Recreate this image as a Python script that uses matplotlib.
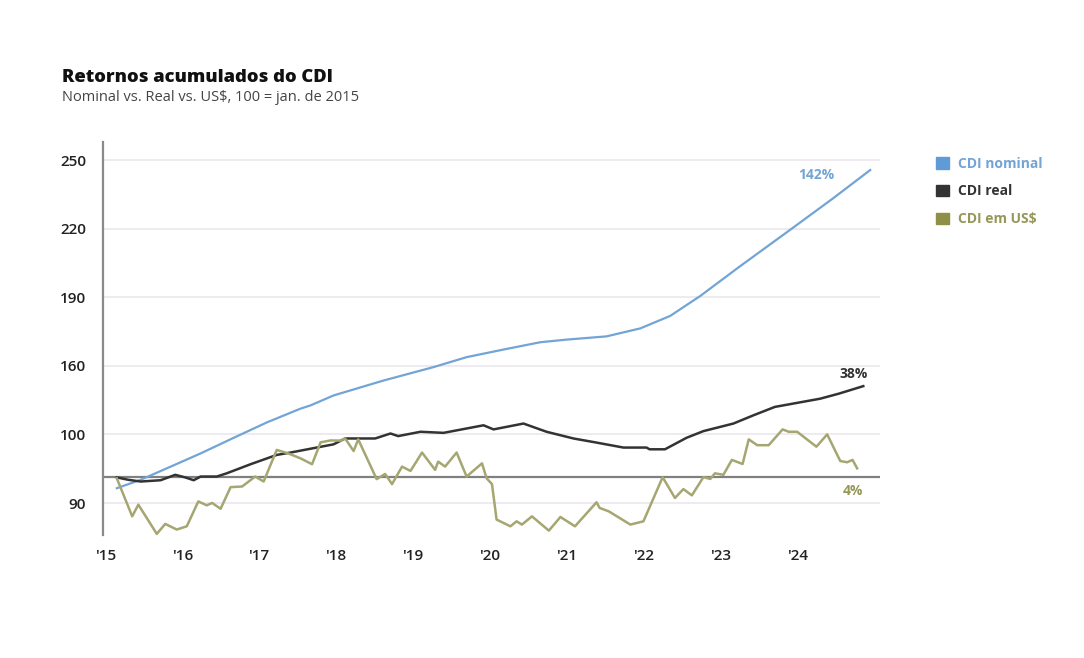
import matplotlib.pyplot as plt
from matplotlib.patches import Patch

plt.rcParams['font.family'] = ['Open Sans', 'DejaVu Sans']

# x in decimal years, y as index (100 = jan. de 2015)
nominal_x = [2015.15, 2015.46, 2015.80, 2016.24, 2016.67, 2017.10, 2017.54, 2017.67,
             2017.97, 2018.62, 2019.27, 2019.70, 2020.22, 2020.66, 2021.00, 2021.52,
             2021.96, 2022.35, 2022.74, 2023.26, 2023.91, 2024.47, 2024.95]
nominal_y = [94.9, 98.8, 104.1, 111.0, 118.2, 125.3, 131.7, 133.2,
             137.8, 144.7, 150.9, 155.5, 159.3, 162.4, 163.6, 165.1,
             168.8, 174.6, 183.8, 197.6, 214.4, 229.0, 242.0]

real_x = [2015.15, 2015.30, 2015.46, 2015.72, 2015.91, 2016.04, 2016.15, 2016.24,
          2016.45, 2016.58, 2016.89, 2017.23, 2017.41, 2017.97, 2018.12, 2018.51,
          2018.71, 2018.81, 2019.10, 2019.40, 2019.92, 2020.05, 2020.44, 2020.74,
          2021.09, 2021.39, 2021.74, 2022.04, 2022.08, 2022.28, 2022.56, 2022.78,
          2023.17, 2023.43, 2023.71, 2024.30, 2024.54, 2024.86]
real_y = [99.9, 98.8, 98.0, 98.6, 101.1, 99.9, 98.6, 100.3,
          100.3, 101.8, 106.0, 110.3, 111.4, 115.2, 117.9, 117.9,
          120.2, 119.0, 121.0, 120.5, 124.0, 122.1, 124.8, 121.0,
          117.9, 116.0, 113.7, 113.7, 112.9, 112.9, 118.2, 121.3,
          124.8, 128.6, 132.5, 136.3, 138.6, 142.1]

usd_x = [2015.15, 2015.35, 2015.43, 2015.67, 2015.78, 2015.93, 2016.06, 2016.21,
         2016.32, 2016.39, 2016.50, 2016.63, 2016.78, 2016.95, 2017.06, 2017.23,
         2017.38, 2017.54, 2017.69, 2017.80, 2017.93, 2018.06, 2018.12, 2018.23,
         2018.29, 2018.53, 2018.64, 2018.73, 2018.86, 2018.97, 2019.12, 2019.29,
         2019.33, 2019.42, 2019.57, 2019.70, 2019.90, 2019.96, 2020.03, 2020.09,
         2020.27, 2020.35, 2020.42, 2020.55, 2020.77, 2020.92, 2021.11, 2021.39,
         2021.43, 2021.55, 2021.83, 2022.00, 2022.25, 2022.41, 2022.52, 2022.63,
         2022.78, 2022.87, 2022.93, 2023.04, 2023.15, 2023.29, 2023.37, 2023.48,
         2023.63, 2023.81, 2023.89, 2024.00, 2024.25, 2024.39, 2024.56, 2024.65,
         2024.72, 2024.78]
usd_y = [99.5, 81.9, 87.3, 73.8, 78.4, 75.8, 77.3, 88.8,
         87.0, 88.1, 85.4, 95.4, 95.7, 100.3, 98.0, 112.6,
         111.0, 108.7, 106.0, 116.1, 117.0, 116.9, 117.9, 112.1,
         117.5, 99.1, 101.5, 96.8, 104.9, 102.9, 111.4, 103.4,
         107.2, 104.9, 111.4, 100.3, 106.4, 99.5, 96.8, 80.4,
         77.3, 79.6, 78.1, 81.9, 75.3, 81.6, 77.3, 88.4,
         85.8, 84.2, 78.1, 79.6, 100.0, 90.4, 94.5, 91.6,
         100.0, 99.2, 101.8, 101.1, 108.0, 106.1, 117.5, 114.8,
         114.8, 122.1, 121.0, 121.0, 114.1, 119.8, 107.5, 106.9,
         108.0, 104.1]

year_ticks = [2015, 2016, 2017, 2018, 2019, 2020, 2021, 2022, 2023, 2024]
year_labels = ["'15", "'16", "'17", "'18", "'19", "'20", "'21", "'22", "'23", "'24"]
# grid lines as drawn in the source, with the labels it prints on them
grid_pos = [88.0, 119.8, 151.5, 183.2, 214.9, 246.6]
grid_labels = ['90', '100', '160', '190', '220', '250']

blue = '#72a4d6'
dark = '#333333'
olive = '#a6a672'
olive_txt = '#979759'

fig = plt.figure(figsize=(10.84, 6.58), dpi=100)
ax = fig.add_axes([0.095, 0.187, 0.717, 0.597])

ax.plot(nominal_x, nominal_y, color=blue, lw=1.6)
ax.plot(real_x, real_y, color=dark, lw=1.8)
ax.plot(usd_x, usd_y, color=olive, lw=1.8)
ax.axhline(100, color='#808080', lw=1.6, zorder=1)

ax.set_xlim(2014.97, 2025.08)
ax.set_ylim(73.3, 254.9)
ax.set_xticks(year_ticks)
ax.set_xticklabels(year_labels)
ax.set_yticks(grid_pos)
ax.set_yticklabels(grid_labels)
ax.tick_params(length=0, labelsize=11, labelcolor='#222222')
ax.tick_params(axis='y', pad=12)
ax.tick_params(axis='x', pad=10)
for lab in ax.get_xticklabels() + ax.get_yticklabels():
    lab.set_fontweight('semibold')
ax.grid(axis='y', color='#ebe6ec', lw=1.2, zorder=0)
for side in ['top', 'right', 'bottom']:
    ax.spines[side].set_visible(False)
ax.spines['left'].set_color('#8a8a8a')
ax.spines['left'].set_linewidth(1.6)

ax.text(nominal_x[-1] - 0.70, 239.7, '142%', color=blue, fontsize=10,
        fontweight='bold', ha='center', va='center')
ax.text(real_x[-1] - 0.12, 147.6, '38%', color=dark, fontsize=10,
        fontweight='bold', ha='center', va='center')
ax.text(usd_x[-1] - 0.05, 93.6, '4%', color=olive_txt, fontsize=10,
        fontweight='bold', ha='center', va='center')

handles = [Patch(color='#5f9bd6'), Patch(color=dark), Patch(color='#8f8f48')]
leg = fig.legend(handles, ['CDI nominal', 'CDI real', 'CDI em US$'],
                 loc='upper left', bbox_to_anchor=(0.852, 0.781), frameon=False,
                 handlelength=0.9, handleheight=0.9, handletextpad=0.7,
                 labelspacing=1.0, prop={'size': 10, 'weight': 'bold'},
                 labelcolor=[blue, dark, olive_txt])

fig.text(0.057, 0.875, 'Retornos acumulados do CDI', fontsize=13.2,
         fontweight='heavy', color='#111111')
fig.text(0.057, 0.847, 'Nominal vs. Real vs. US$, 100 = jan. de 2015',
         fontsize=10.5, color='#444444')

fig.savefig('out.png', dpi=100)
plt.close(fig)
